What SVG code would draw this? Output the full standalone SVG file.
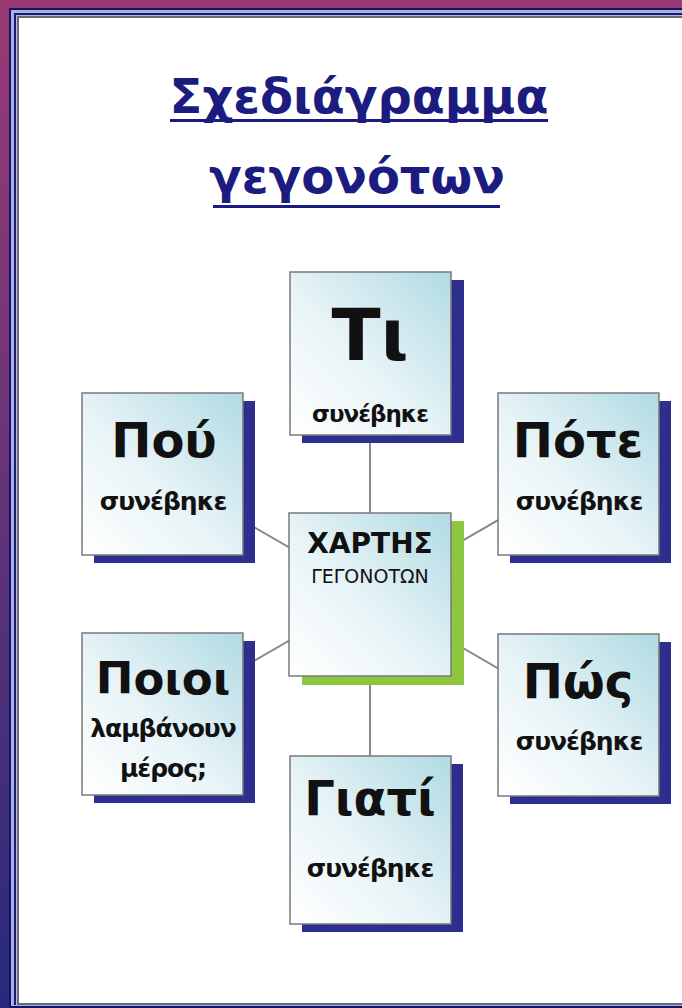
<svg xmlns="http://www.w3.org/2000/svg" width="682" height="1008" viewBox="0 0 682 1008">
<defs>
<linearGradient id="bg" x1="0" y1="0" x2="0" y2="1">
<stop offset="0" stop-color="#9a3a74"/>
<stop offset="0.45" stop-color="#6a3478"/>
<stop offset="1" stop-color="#262a7c"/>
</linearGradient>
<linearGradient id="boxfill" x1="1" y1="0" x2="0" y2="1">
<stop offset="0" stop-color="#b0dae3"/>
<stop offset="0.55" stop-color="#e8f4f7"/>
<stop offset="1" stop-color="#ffffff"/>
</linearGradient>
<style>
.box{fill:url(#boxfill);stroke:#7a7a7a;stroke-width:1.5}
.sh{fill:#2e2e8e}
.shg{fill:#8dc63f}
.big{font-family:"DejaVu Sans",sans-serif;font-weight:bold;font-size:48px;fill:#111;text-anchor:middle}
.small{font-family:"DejaVu Sans",sans-serif;font-weight:bold;font-size:25px;letter-spacing:-1px;fill:#111;text-anchor:middle}
.title{font-family:"DejaVu Sans",sans-serif;font-weight:bold;font-size:48px;fill:#1c1c80;text-anchor:middle}
.conn{stroke:#8a8a8a;stroke-width:2;fill:none}
</style>
</defs>
<rect x="0" y="0" width="682" height="1008" fill="url(#bg)"/>
<rect x="9" y="8" width="673" height="1000" fill="#151565"/>
<rect x="11" y="10" width="671" height="996" fill="#aab0e6"/>
<rect x="14" y="13" width="668" height="992" fill="#1b1b70"/>
<rect x="16" y="15" width="666" height="990" fill="#b4b8e6"/>
<rect x="17" y="16" width="665" height="989" fill="#6a6a78"/>
<rect x="19" y="18" width="663" height="985" fill="#ffffff"/>

<g id="title">
<text class="title" x="359" y="113">Σχεδιάγραμμα</text>
<rect x="170" y="119" width="378" height="3" fill="#1c1c80"/>
<text class="title" x="357" y="193">γεγονότων</text>
<rect x="213" y="205" width="287" height="3" fill="#1c1c80"/>
</g>

<g id="connectors">
<line class="conn" x1="370" y1="594" x2="370" y2="353"/>
<line class="conn" x1="370" y1="594" x2="370" y2="841"/>
<line class="conn" x1="370" y1="594" x2="162" y2="474"/>
<line class="conn" x1="370" y1="594" x2="578" y2="474"/>
<line class="conn" x1="370" y1="594" x2="162" y2="714"/>
<line class="conn" x1="370" y1="594" x2="578" y2="715"/>
</g>

<g id="node-ti">
<rect class="sh" x="302" y="280" width="162" height="163"/>
<rect class="box" x="290" y="272" width="161" height="163"/>
<text class="big" x="370" y="360" style="font-size:72px">Τι</text>
<text class="small" x="370" y="422" style="font-size:23px">συνέβηκε</text>
</g>

<g id="node-pou">
<rect class="sh" x="94" y="401" width="161" height="162"/>
<rect class="box" x="82" y="393" width="161" height="162"/>
<text class="big" x="164" y="457">Πού</text>
<text class="small" x="163" y="510">συνέβηκε</text>
</g>

<g id="node-pote">
<rect class="sh" x="510" y="401" width="161" height="162"/>
<rect class="box" x="498" y="393" width="161" height="162"/>
<text class="big" x="578" y="457">Πότε</text>
<text class="small" x="579" y="510">συνέβηκε</text>
</g>

<g id="node-center">
<rect class="shg" x="302" y="521" width="162" height="164"/>
<rect class="box" x="289" y="513" width="162" height="163"/>
<text class="big" x="370" y="553" style="font-size:28px">ΧΑΡΤΗΣ</text>
<text class="small" x="370" y="583" style="font-size:19px;font-weight:normal;letter-spacing:0">ΓΕΓΟΝΟΤΩΝ</text>
</g>

<g id="node-poioi">
<rect class="sh" x="94" y="641" width="161" height="162"/>
<rect class="box" x="82" y="633" width="161" height="162"/>
<text class="big" x="163" y="694" style="font-size:45px">Ποιοι</text>
<text class="small" x="163" y="737">λαμβάνουν</text>
<text class="small" x="163" y="777">μέρος;</text>
</g>

<g id="node-pos">
<rect class="sh" x="510" y="642" width="161" height="162"/>
<rect class="box" x="498" y="634" width="161" height="162"/>
<text class="big" x="578" y="698">Πώς</text>
<text class="small" x="579" y="750">συνέβηκε</text>
</g>

<g id="node-giati">
<rect class="sh" x="302" y="764" width="161" height="168"/>
<rect class="box" x="290" y="756" width="161" height="168"/>
<text class="big" x="370" y="815">Γιατί</text>
<text class="small" x="370" y="877">συνέβηκε</text>
</g>
</svg>
